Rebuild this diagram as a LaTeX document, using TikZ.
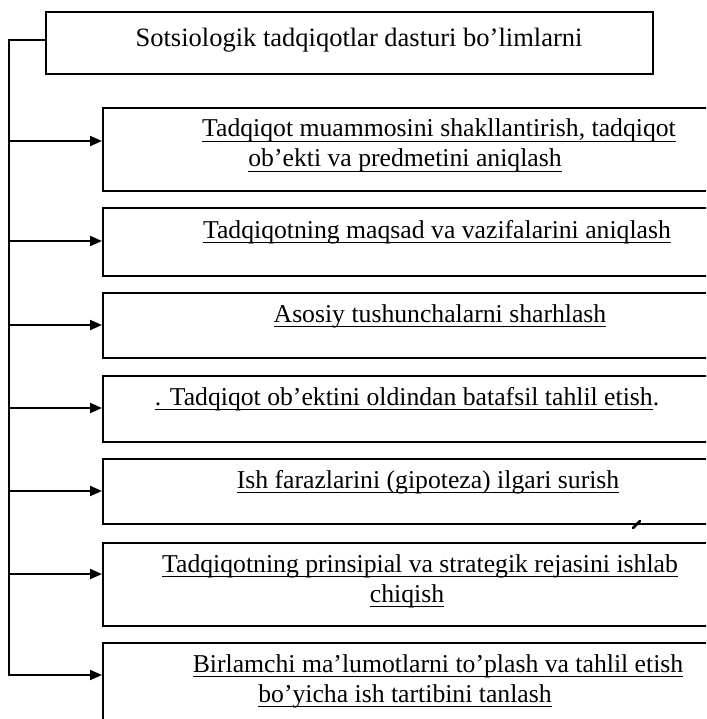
\documentclass[tikz,border=0pt]{standalone}
\usepackage{fontspec}
\setmainfont{Liberation Serif}
\usetikzlibrary{arrows.meta}
% underline crossing the descenders
\newcommand{\uln}[1]{\leavevmode\setbox0\hbox{#1}\rlap{\rule[-5.2pt]{\wd0}{1.2pt}}\box0}

\begin{document}
\begin{tikzpicture}[x=1pt, y=-1pt,
  font=\fontsize{25.7}{30}\selectfont,
  box/.style={draw, line width=2pt, anchor=north west, inner sep=0pt,
              minimum width=#1},
  box/.default=640pt,
  txt/.style={anchor=base, align=center, inner sep=0pt},
  wire/.style={line width=2pt},
  arr/.style={-{Triangle[length=12pt,width=10pt]}, line width=2pt}
]
  \clip (0,0) rectangle (706,719);
  % boxes
  \node[box=607pt, minimum height=62pt] (top) at (45,11)  {};
  \node[box, minimum height=83pt]       (b1)  at (102,107) {};
  \node[box, minimum height=68pt]       (b2)  at (102,207) {};
  \node[box, minimum height=65pt]       (b3)  at (102,292) {};
  \node[box, minimum height=66pt]       (b4)  at (102,375) {};
  \node[box, minimum height=65pt]       (b5)  at (102,458) {};
  \node[box, minimum height=83pt]       (b6)  at (102,542) {};
  \node[box, minimum height=100pt]      (b7)  at (102,642) {};
  % texts (base = last line)
  \node[txt, font=\fontsize{26.5}{30}\selectfont] (ltop) at (359,47)
    {Sotsiologik tadqiqotlar dasturi bo’limlarni};
  \node[txt] (l1)   at (439,167) {\uln{Tadqiqot muammosini shakllantirish, tadqiqot}\\
                                  \uln{ob’ekti va predmetini aniqlash}\hspace*{68pt}};
  \node[txt] (l2)   at (437,238) {\uln{Tadqiqotning maqsad va vazifalarini aniqlash}};
  \node[txt] (l3)   at (440,322) {\uln{Asosiy tushunchalarni sharhlash}};
  \node[txt] (l4)   at (407,405) {\uln{. Tadqiqot ob’ektini oldindan batafsil tahlil etish}.};
  \node[txt] (l5)   at (428,488) {\uln{Ish farazlarini (gipoteza) ilgari surish}};
  \node[txt] (l6)   at (420,602) {\uln{Tadqiqotning prinsipial va strategik rejasini ishlab}\\
                                  \uln{chiqish}\hspace*{26pt}};
  \node[txt] (l7)   at (438,702) {\uln{Birlamchi ma’lumotlarni to’plash va tahlil etish}\\
                                  \uln{bo’yicha ish tartibini tanlash}\hspace*{66pt}};
  % spine
  \coordinate (s0) at (9,40);
  \foreach \i/\y in {1/141, 2/241, 3/325, 4/408, 5/491, 6/574, 7/675}
    \coordinate (s\i) at (9,\y);
  \draw[wire, line cap=rect] (s0 -| top.west) -- (s0) -- (s7);
  \foreach \i in {1,...,7}
    \draw[arr] (s\i) -- (s\i -| b\i.west);
  \draw[line width=2.6pt, line cap=round] (633,528) -- (640,521);
\end{tikzpicture}
\end{document}
